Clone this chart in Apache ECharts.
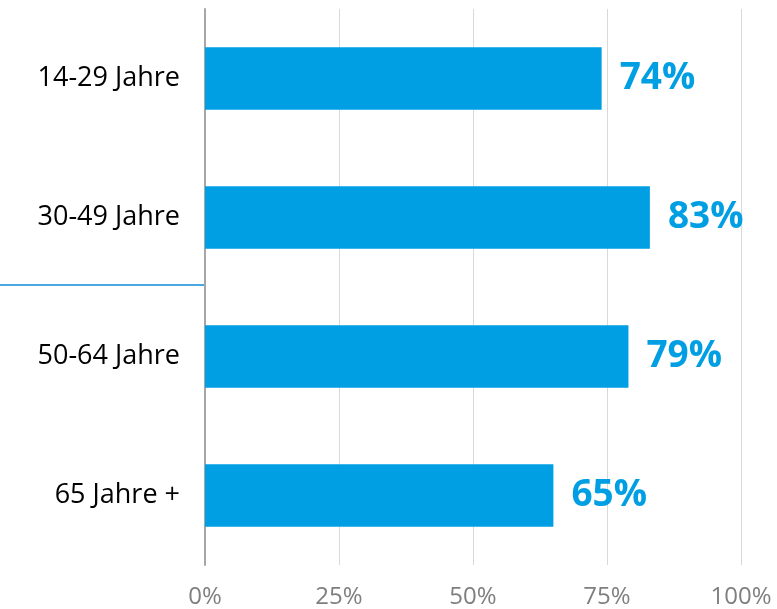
<!DOCTYPE html>
<html>
<head>
<meta charset="utf-8">
<script src="https://cdn.jsdelivr.net/npm/echarts@6/dist/echarts.min.js"></script>
<style>
  html, body { margin: 0; padding: 0; background: #fff; }
  #chart { width: 777px; height: 609px; }
</style>
</head>
<body>
<div id="chart"></div>
<script>
// Altersgruppen und Anteile (in %)
const categories = ['14-29 Jahre', '30-49 Jahre', '50-64 Jahre', '65 Jahre +']
const values = [74, 83, 79, 65]
const xTicks = [0, 25, 50, 75, 100]

const chart = echarts.init(document.getElementById('chart'))
const fontFamily = '"Open Sans", "Noto Sans", sans-serif'

chart.setOption({
  animation: false,
  grid: {
    left: 205,
    right: 36,
    top: 9,
    bottom: 44
  },
  xAxis: {
    type: 'value',
    min: xTicks[0],
    max: xTicks[xTicks.length - 1],
    interval: 25,
    axisLine: { show: false },
    axisTick: { show: false },
    axisLabel: {
      formatter: '{value}%',
      color: '#7f7f7f',
      fontSize: 24,
      fontFamily: fontFamily,
      margin: 20
    },
    splitLine: {
      lineStyle: { color: '#d9d9d9', width: 1 }
    }
  },
  yAxis: {
    type: 'category',
    data: categories,
    inverse: true,
    axisLine: {
      lineStyle: { color: '#a6a6a6', width: 2 }
    },
    axisTick: { show: false },
    axisLabel: {
      color: '#000',
      fontSize: 27,
      fontFamily: fontFamily,
      margin: 25
    }
  },
  series: [{
    type: 'bar',
    data: values,
    barWidth: '45%',
    itemStyle: { color: '#009fe3' },
    label: {
      show: true,
      position: 'right',
      distance: 18,
      formatter: '{c}%',
      color: '#009fe3',
      fontSize: 37,
      fontWeight: 'bold',
      fontFamily: fontFamily
    }
  }],
  graphic: [{
    type: 'line',
    shape: { x1: 0, y1: 285, x2: 205, y2: 285 },
    style: { stroke: '#4aa8e0', lineWidth: 2 }
  }]
})
</script>
</body>
</html>
